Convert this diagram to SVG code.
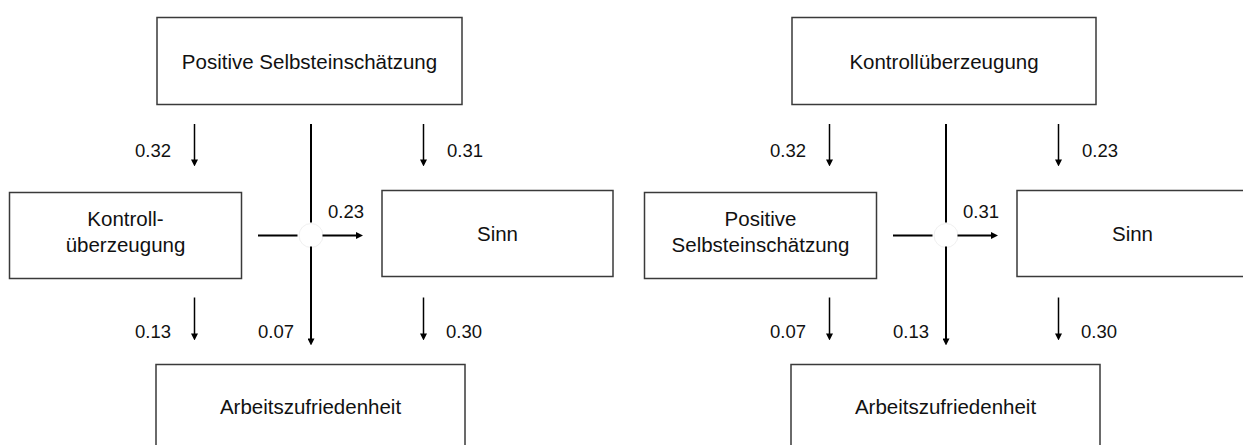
<svg xmlns="http://www.w3.org/2000/svg" width="1243" height="445" viewBox="0 0 1243 445">
  <style>
    .box { fill: #ffffff; stroke: #3a3a3a; stroke-width: 1.5; }
    .nt { font-family: "Liberation Sans", Arial, sans-serif; font-size: 20.5px; fill: #111111; text-anchor: middle; }
    .lb { font-family: "Liberation Sans", Arial, sans-serif; font-size: 18.5px; fill: #111111; }
    .ar { stroke: #000000; stroke-width: 1.5; fill: none; marker-end: url(#ah); }
    .ln { stroke: #000000; stroke-width: 2; fill: none; }
    .la { stroke: #000000; stroke-width: 2; fill: none; marker-end: url(#ah); }
    .hole { fill: #ffffff; stroke: #f0f0f0; stroke-width: 1; }
  </style>
  <defs>
    <marker id="ah" viewBox="0 0 8 8" refX="4.6" refY="4" markerWidth="7" markerHeight="7" markerUnits="userSpaceOnUse" orient="auto">
      <path d="M0,0 L8,4 L0,8 z" fill="#000000"/>
    </marker>
  </defs>
  <rect width="1243" height="445" fill="#ffffff"/>

  <!-- Left diagram -->
  <g id="left-diagram">
    <g id="L-positive">
      <rect class="box" x="157" y="17.5" width="305" height="87"/>
      <text class="nt" x="309.5" y="69">Positive Selbsteinschätzung</text>
    </g>
    <g id="L-kontroll">
      <rect class="box" x="9.5" y="192.5" width="232" height="86"/>
      <text class="nt" x="125.5" y="226">Kontroll-</text>
      <text class="nt" x="125.5" y="252">überzeugung</text>
    </g>
    <g id="L-sinn">
      <rect class="box" x="382" y="190.5" width="231" height="86"/>
      <text class="nt" x="497.5" y="241">Sinn</text>
    </g>
    <g id="L-arbeit">
      <rect class="box" x="156" y="364.5" width="309" height="100"/>
      <text class="nt" x="310.5" y="413.5">Arbeitszufriedenheit</text>
    </g>
    <g id="L-connectors">
      <line class="ar" x1="194.5" y1="124" x2="194.5" y2="163.5"/>
      <line class="ar" x1="423.5" y1="124" x2="423.5" y2="163.5"/>
      <line class="ar" x1="194.5" y1="297.5" x2="194.5" y2="337.5"/>
      <line class="ar" x1="423.5" y1="297.5" x2="423.5" y2="337.5"/>
      <circle class="hole" cx="311" cy="235.5" r="12"/>
      <line class="ln" x1="311" y1="124" x2="311" y2="222.5"/>
      <line class="la" x1="311" y1="246.5" x2="311" y2="342.5"/>
      <line class="ln" x1="258" y1="235.5" x2="297.5" y2="235.5"/>
      <line class="la" x1="322.5" y1="235.5" x2="360" y2="235.5"/>
    </g>
    <g id="L-labels">
      <text class="lb" x="171" y="157" text-anchor="end">0.32</text>
      <text class="lb" x="447" y="157">0.31</text>
      <text class="lb" x="328" y="218">0.23</text>
      <text class="lb" x="171" y="338" text-anchor="end">0.13</text>
      <text class="lb" x="258" y="338">0.07</text>
      <text class="lb" x="446" y="338">0.30</text>
    </g>
  </g>

  <!-- Right diagram -->
  <g id="right-diagram">
    <g id="R-kontroll">
      <rect class="box" x="792" y="17.5" width="304" height="87"/>
      <text class="nt" x="944" y="69">Kontrollüberzeugung</text>
    </g>
    <g id="R-positive">
      <rect class="box" x="644.5" y="192.5" width="232" height="86"/>
      <text class="nt" x="760.5" y="226">Positive</text>
      <text class="nt" x="760.5" y="252">Selbsteinschätzung</text>
    </g>
    <g id="R-sinn">
      <rect class="box" x="1017" y="190.5" width="231" height="86"/>
      <text class="nt" x="1132.5" y="241">Sinn</text>
    </g>
    <g id="R-arbeit">
      <rect class="box" x="791" y="364.5" width="309" height="100"/>
      <text class="nt" x="945.5" y="413.5">Arbeitszufriedenheit</text>
    </g>
    <g id="R-connectors">
      <line class="ar" x1="829.5" y1="124" x2="829.5" y2="163.5"/>
      <line class="ar" x1="1058.5" y1="124" x2="1058.5" y2="163.5"/>
      <line class="ar" x1="829.5" y1="297.5" x2="829.5" y2="337.5"/>
      <line class="ar" x1="1058.5" y1="297.5" x2="1058.5" y2="337.5"/>
      <circle class="hole" cx="946" cy="235.5" r="12"/>
      <line class="ln" x1="946" y1="124" x2="946" y2="222.5"/>
      <line class="la" x1="946" y1="246.5" x2="946" y2="342.5"/>
      <line class="ln" x1="893" y1="235.5" x2="932.5" y2="235.5"/>
      <line class="la" x1="957.5" y1="235.5" x2="995" y2="235.5"/>
    </g>
    <g id="R-labels">
      <text class="lb" x="806" y="157" text-anchor="end">0.32</text>
      <text class="lb" x="1082" y="157">0.23</text>
      <text class="lb" x="963" y="218">0.31</text>
      <text class="lb" x="806" y="338" text-anchor="end">0.07</text>
      <text class="lb" x="893" y="338">0.13</text>
      <text class="lb" x="1081" y="338">0.30</text>
    </g>
  </g>
</svg>
